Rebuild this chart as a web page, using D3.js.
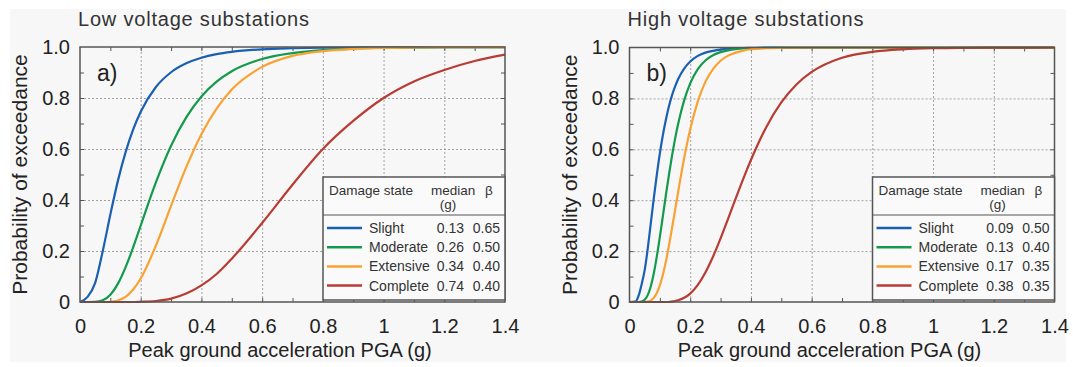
<!DOCTYPE html>
<html>
<head>
<meta charset="utf-8">
<script src="https://cdn.jsdelivr.net/npm/d3@7"></script>
<style>
  body { margin: 0; background: #fff; }
  svg { display: block; font-family: "Liberation Sans", Arial, sans-serif; }
</style>
</head>
<body>
<div id="chart"></div>
<script>
// Values
const damageStates = ["Slight", "Moderate", "Extensive", "Complete"];
const colors = ["#1b5fb3", "#149a4c", "#f9a233", "#b83c33"];

const pgaLow = [0, 0.025, 0.05, 0.075, 0.1, 0.125, 0.15, 0.175, 0.2, 0.25, 0.3, 0.35, 0.4, 0.45, 0.5, 0.6, 0.7, 0.8, 0.9, 1.0, 1.1, 1.2, 1.3, 1.4];
const lowSlight = [0, 0.02, 0.075, 0.2, 0.343, 0.476, 0.587, 0.676, 0.746, 0.843, 0.901, 0.936, 0.958, 0.972, 0.981, 0.991, 0.995, 0.997, 0.998, 0.999, 0.9995, 0.9997, 0.9998, 0.9999];
const lowModerate = [0, 0, 0.0005, 0.0065, 0.028, 0.072, 0.136, 0.214, 0.3, 0.469, 0.613, 0.724, 0.806, 0.864, 0.905, 0.953, 0.976, 0.988, 0.994, 0.997, 0.998, 0.999, 0.9994, 0.9996];
const lowExtensive = [0, 0, 0, 0, 0.001, 0.006, 0.02, 0.049, 0.092, 0.221, 0.377, 0.529, 0.658, 0.758, 0.833, 0.922, 0.965, 0.984, 0.9925, 0.9965, 0.998, 0.9992, 0.9996, 0.9998];
const lowComplete = [0, 0, 0, 0, 0, 0, 0, 0, 0.001, 0.004, 0.013, 0.033, 0.065, 0.11, 0.17, 0.31, 0.46, 0.6, 0.71, 0.8, 0.865, 0.91, 0.945, 0.97];
const lowMedian = ["0.13", "0.26", "0.34", "0.74"];
const lowBeta = ["0.65", "0.50", "0.40", "0.40"];

const pgaHigh = [0, 0.02, 0.03, 0.04, 0.05, 0.06, 0.07, 0.08, 0.09, 0.1, 0.11, 0.12, 0.13, 0.14, 0.15, 0.16, 0.18, 0.2, 0.225, 0.25, 0.275, 0.3, 0.325, 0.35, 0.375, 0.4, 0.45, 0.5, 0.55, 0.6, 0.7, 0.8, 0.9, 1.0, 1.2, 1.4];
const highSlight = [0, 0.002, 0.025, 0.07, 0.125, 0.209, 0.308, 0.407, 0.5, 0.584, 0.656, 0.717, 0.769, 0.812, 0.846, 0.875, 0.917, 0.945, 0.967, 0.98, 0.987, 0.992, 0.995, 0.9967, 0.998, 0.9986, 0.9994, 0.9997, 0.9999, 1, 1, 1, 1, 1, 1, 1];
const highModerate = [0, 0, 0, 0.002, 0.0085, 0.027, 0.061, 0.112, 0.179, 0.256, 0.338, 0.421, 0.5, 0.574, 0.64, 0.698, 0.792, 0.859, 0.915, 0.949, 0.9695, 0.982, 0.989, 0.9934, 0.996, 0.9975, 0.9991, 0.9997, 0.9999, 1, 1, 1, 1, 1, 1, 1];
const highExtensive = [0, 0, 0, 0, 0, 0.0015, 0.0056, 0.016, 0.035, 0.065, 0.107, 0.16, 0.222, 0.29, 0.36, 0.431, 0.565, 0.679, 0.788, 0.865, 0.915, 0.948, 0.968, 0.98, 0.988, 0.993, 0.9973, 0.999, 0.9996, 1, 1, 1, 1, 1, 1, 1];
const highComplete = [0, 0, 0, 0, 0, 0, 0, 0, 0, 0, 0, 0, 0, 0.002, 0.004, 0.0067, 0.0164, 0.033, 0.067, 0.116, 0.178, 0.25, 0.328, 0.407, 0.485, 0.558, 0.686, 0.784, 0.855, 0.904, 0.96, 0.983, 0.993, 0.997, 0.9995, 1];
const highMedian = ["0.09", "0.13", "0.17", "0.38"];
const highBeta = ["0.50", "0.40", "0.35", "0.35"];

const xTicks = [0, 0.2, 0.4, 0.6, 0.8, 1.0, 1.2, 1.4];
const xTickLabels = ["0", "0.2", "0.4", "0.6", "0.8", "1", "1.2", "1.4"];
const yTicks = [0, 0.2, 0.4, 0.6, 0.8, 1.0];
const yTickLabels = ["0", "0.2", "0.4", "0.6", "0.8", "1.0"];

const width = 1073, height = 367;

const svg = d3.select("#chart").append("svg")
  .attr("width", width)
  .attr("height", height);

svg.append("rect")
  .attr("x", 10).attr("y", 9)
  .attr("width", 1056).attr("height", 353)
  .attr("fill", "#f7f7f7");

function drawPanel(p) {
  const x = d3.scaleLinear().domain([0, 1.4]).range([p.left, p.right]);
  const y = d3.scaleLinear().domain([0, 1]).range([p.bottom, p.top]);
  const g = svg.append("g");
  const plotH = p.bottom - p.top;
  const minor = d3.range(1, 14).map((i) => i / 10);
  const minorY = d3.range(1, 10).map((i) => i / 10);

  // grid
  g.append("g")
    .attr("transform", `translate(0,${p.bottom})`)
    .call(d3.axisBottom(x).tickValues(xTicks.slice(1, -1)).tickSize(-plotH).tickFormat(""))
    .call((s) => s.select(".domain").remove())
    .selectAll("line")
    .attr("stroke", "#8a8a8a").attr("stroke-width", 0.8).attr("stroke-dasharray", "2,2");
  g.append("g")
    .attr("transform", `translate(${p.left},0)`)
    .call(d3.axisLeft(y).tickValues(yTicks.slice(1, -1)).tickSize(-(p.right - p.left)).tickFormat(""))
    .call((s) => s.select(".domain").remove())
    .selectAll("line")
    .attr("stroke", "#8a8a8a").attr("stroke-width", 0.8).attr("stroke-dasharray", "2,2");

  // small inward ticks on all four sides
  const tickStyle = (s) => {
    s.select(".domain").remove();
    s.selectAll("line").attr("stroke", "#555").attr("stroke-width", 1);
  };
  g.append("g").attr("transform", `translate(0,${p.bottom})`)
    .call(d3.axisBottom(x).tickValues(minor).tickSize(-4).tickFormat("")).call(tickStyle);
  g.append("g").attr("transform", `translate(0,${p.top})`)
    .call(d3.axisTop(x).tickValues(minor).tickSize(-4).tickFormat("")).call(tickStyle);
  g.append("g").attr("transform", `translate(${p.left},0)`)
    .call(d3.axisLeft(y).tickValues(minorY).tickSize(-4).tickFormat("")).call(tickStyle);
  g.append("g").attr("transform", `translate(${p.right},0)`)
    .call(d3.axisRight(y).tickValues(minorY).tickSize(-4).tickFormat("")).call(tickStyle);

  // curves
  const line = d3.line()
    .x((d) => x(d[0]))
    .y((d) => y(d[1]))
    .curve(d3.curveMonotoneX);
  p.series.forEach((vals, i) => {
    g.append("path")
      .datum(p.pga.map((v, j) => [v, vals[j]]))
      .attr("fill", "none")
      .attr("stroke", colors[i])
      .attr("stroke-width", 2.2)
      .attr("d", line);
  });

  // frame
  g.append("rect")
    .attr("x", p.left).attr("y", p.top)
    .attr("width", p.right - p.left).attr("height", plotH)
    .attr("fill", "none").attr("stroke", "#555").attr("stroke-width", 1.5);

  // tick labels
  g.append("g")
    .attr("transform", `translate(0,${p.bottom})`)
    .call(d3.axisBottom(x).tickValues(xTicks).tickSize(0).tickPadding(17)
      .tickFormat((d, i) => xTickLabels[i]))
    .call((s) => s.select(".domain").remove())
    .attr("font-size", 20).attr("font-family", null)
    .selectAll("text").attr("fill", "#222");
  g.append("g")
    .attr("transform", `translate(${p.left},0)`)
    .call(d3.axisLeft(y).tickValues(yTicks).tickSize(0).tickPadding(10)
      .tickFormat((d, i) => yTickLabels[i]))
    .call((s) => s.select(".domain").remove())
    .attr("font-size", 20).attr("font-family", null)
    .selectAll("text").attr("fill", "#222");

  // titles and axis labels
  g.append("text")
    .attr("x", p.left - 2).attr("y", 26)
    .attr("font-size", 20).attr("fill", "#333")
    .attr("textLength", p.titleLen).attr("lengthAdjust", "spacing")
    .text(p.title);
  g.append("text")
    .attr("x", p.left + 200).attr("y", 357)
    .attr("text-anchor", "middle")
    .attr("font-size", 20).attr("fill", "#222")
    .text("Peak ground acceleration PGA (g)");
  g.append("text")
    .attr("transform", `translate(${p.left - 53},${(p.top + p.bottom) / 2}) rotate(-90)`)
    .attr("text-anchor", "middle")
    .attr("font-size", 21).attr("fill", "#222")
    .text("Probability of exceedance");
  g.append("text")
    .attr("x", p.left + 17).attr("y", 81)
    .attr("font-size", 23).attr("fill", "#222")
    .text(p.tag);

  // legend table
  const bx = p.right - 182, by = 177;
  const lg = g.append("g").attr("transform", `translate(${bx},${by})`);
  lg.append("rect")
    .attr("width", 182).attr("height", 123)
    .attr("fill", "#fafafa").attr("stroke", "#555").attr("stroke-width", 1.5);
  lg.append("line")
    .attr("x1", 0).attr("x2", 182).attr("y1", 38).attr("y2", 38)
    .attr("stroke", "#555").attr("stroke-width", 1.2);
  const hdr = lg.append("g").attr("font-size", 13.5).attr("fill", "#333");
  hdr.append("text").attr("x", 6).attr("y", 18).text("Damage state");
  hdr.append("text").attr("x", 108).attr("y", 18).text("median");
  hdr.append("text").attr("x", 125).attr("y", 32).attr("text-anchor", "middle").text("(g)");
  hdr.append("text").attr("x", 162).attr("y", 18).text("β");

  damageStates.forEach((name, i) => {
    const yy = 56 + i * 19.2;
    lg.append("line")
      .attr("x1", 4).attr("x2", 39).attr("y1", yy - 5).attr("y2", yy - 5)
      .attr("stroke", colors[i]).attr("stroke-width", 2.5);
    lg.append("text").attr("x", 46).attr("y", yy)
      .attr("font-size", 14).attr("fill", "#333").text(name);
    lg.append("text").attr("x", 141).attr("y", yy).attr("text-anchor", "end")
      .attr("font-size", 14).attr("fill", "#333").text(p.medians[i]);
    lg.append("text").attr("x", 177).attr("y", yy).attr("text-anchor", "end")
      .attr("font-size", 14).attr("fill", "#333").text(p.betas[i]);
  });
}

drawPanel({
  left: 80, right: 505, top: 47, bottom: 302,
  title: "Low voltage substations", titleLen: 231, tag: "a)",
  pga: pgaLow,
  series: [lowSlight, lowModerate, lowExtensive, lowComplete],
  medians: lowMedian, betas: lowBeta,
});

drawPanel({
  left: 629.5, right: 1054.5, top: 47.5, bottom: 302,
  title: "High voltage substations", titleLen: 236, tag: "b)",
  pga: pgaHigh,
  series: [highSlight, highModerate, highExtensive, highComplete],
  medians: highMedian, betas: highBeta,
});
</script>
</body>
</html>
